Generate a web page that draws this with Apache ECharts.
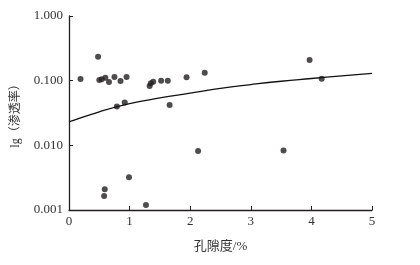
<!DOCTYPE html>
<html><head><meta charset="utf-8">
<script src="https://cdn.jsdelivr.net/npm/echarts@6/dist/echarts.min.js"></script>
<style>html,body{margin:0;padding:0;background:#fff}#c{width:420px;height:265px}</style>
</head><body><div id="c"></div>
<script>
const porosity = [0.19,0.48,0.50,0.54,0.60,0.66,0.75,0.85,0.95,0.79,0.92,1.33,1.35,1.39,1.52,1.63,1.94,2.24,1.66,3.97,4.17,0.59,0.58,0.99,2.13,1.27,3.54];
const permeability = [0.106,0.235,0.102,0.105,0.111,0.095,0.114,0.099,0.114,0.040,0.046,0.083,0.091,0.096,0.100,0.100,0.113,0.133,0.042,0.209,0.107,0.0021,0.00165,0.0032,0.0082,0.0012,0.0083];
const fitX = [0,0.5,1,1.5,2,2.5,3,3.5,4,4.5,5];
const fitY = [0.023,0.033,0.044,0.054,0.064,0.076,0.087,0.098,0.108,0.119,0.130];
const xTicks = [0,1,2,3,4,5];
const yTicks = ['0.001','0.010','0.100','1.000'];
const xName = '孔隙度/%';
const yName = 'lg（渗透率）';

const font = "'Liberation Serif','Noto Sans CJK SC',serif";
const chart = echarts.init(document.getElementById('c'));
chart.setOption({
  animation:false,
  grid:{left:69,right:48,top:16,bottom:55},
  xAxis:{type:'value',min:xTicks[0],max:xTicks[xTicks.length-1],interval:1,
    name:xName,nameLocation:'middle',nameGap:30,
    nameTextStyle:{fontFamily:font,fontSize:13,color:'#333'},
    axisLine:{lineStyle:{color:'#231f20',width:1.3}},
    axisTick:{inside:true,length:4,lineStyle:{color:'#231f20'}},
    axisLabel:{fontFamily:font,fontSize:13,color:'#333',margin:5},
    splitLine:{show:false}},
  yAxis:{type:'log',logBase:10,min:0.001,max:1,
    name:yName,nameLocation:'middle',nameGap:47,nameRotate:90,
    nameTextStyle:{fontFamily:font,fontSize:12,color:'#333'},
    axisLine:{show:true,lineStyle:{color:'#231f20',width:1.3}},
    axisTick:{show:true,inside:true,length:4,lineStyle:{color:'#231f20'}},
    axisLabel:{fontFamily:font,fontSize:13,color:'#333',margin:6,
      formatter:v=>{const i=Math.round(Math.log10(v))+3;return yTicks[i]!==undefined?yTicks[i]:v.toFixed(3);}},
    splitLine:{show:false}},
  series:[
    {type:'scatter',data:porosity.map((x,i)=>[x,permeability[i]]),symbolSize:6,
     itemStyle:{color:'#231f20'}},
    {type:'line',data:fitX.map((x,i)=>[x,fitY[i]]),smooth:true,showSymbol:false,
     lineStyle:{color:'#111',width:1.3}}
  ]
});
</script></body></html>
